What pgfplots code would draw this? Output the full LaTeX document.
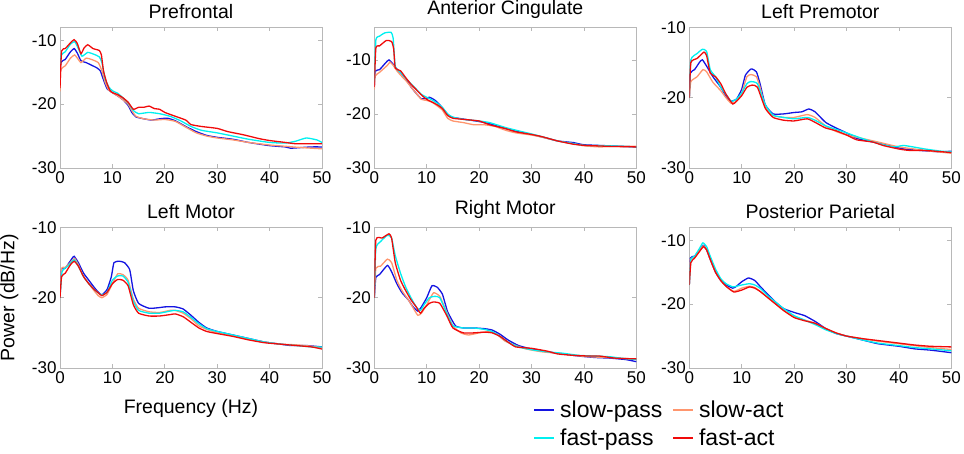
\documentclass[border=0pt]{standalone}
\usepackage{pgfplots}
\pgfplotsset{compat=1.18}
\usepackage{fontspec}
\setmainfont{Liberation Sans}
\definecolor{slowpass}{RGB}{20,20,225}
\definecolor{slowact}{RGB}{255,150,110}
\definecolor{fastpass}{RGB}{0,240,240}
\definecolor{fastact}{RGB}{240,10,10}
\pgfplotsset{panel/.style={
  scale only axis, width=262pt, height=140.5pt, anchor=south west,
  xmin=0, xmax=50, ymin=-30,
  xtick={0,10,20,30,40,50}, ytick={-30,-20,-10},
  axis line style={draw=black!28},
  tick style={draw=black!28, line width=0.6pt},
  major tick length=4pt, tick align=inside,
  xtick pos=both, ytick pos=both,
  ticklabel style={font=\fontsize{17}{20}\selectfont, text=black},
  /pgf/number format/assume math mode=true,
  title style={font=\fontsize{19.5}{22}\selectfont, yshift=-0.5pt},
  label style={font=\fontsize{19.5}{22}\selectfont},
  every axis plot/.append style={line width=1.3pt, mark=none, smooth, tension=0.3},
  legend image code/.code={\draw[##1, line width=1.6pt] (0pt,0pt) -- (20pt,0pt);},
}}
\begin{document}
\begin{tikzpicture}
\path[use as bounding box] (0,0) rectangle (964pt,454pt);
% ---------- Prefrontal
\begin{axis}[panel, at={(60pt,286pt)}, ymax=-8, title={Prefrontal}]
\addplot[slowpass] coordinates {(0,-17)(0.15,-13.5)(1,-13.0)(2,-11.8)(2.7,-11.3)(3.3,-12.0)(4,-13.2)(5,-13.5)(6,-13.9)(7,-14.3)(7.7,-14.8)(8.3,-16.2)(9,-17.6)(10,-18.2)(11,-18.7)(12,-19.3)(13,-20.2)(13.7,-21.3)(14.5,-22.0)(16,-22.3)(17.5,-22.5)(19,-22.3)(20.5,-22.2)(22,-22.6)(24,-23.5)(26,-24.3)(28,-24.9)(30,-25.2)(33,-25.5)(36,-26.0)(40,-26.5)(43,-26.7)(44,-26.9)(46,-26.8)(48,-26.7)(50,-26.7)};
\addplot[slowact] coordinates {(0,-18)(0.15,-14.6)(1,-14.0)(2,-12.8)(2.8,-12.3)(3.5,-13.0)(4,-13.5)(5,-12.8)(6,-13.0)(7.3,-13.5)(8,-14.8)(8.6,-16.5)(9.3,-17.8)(10,-18.2)(11,-18.7)(12,-19.3)(13,-20.0)(13.7,-21.0)(14.5,-21.9)(16,-22.3)(18,-22.5)(20,-22.4)(22,-22.7)(24,-23.6)(26,-24.5)(28,-25.0)(30,-25.3)(33,-25.6)(36,-26.0)(40,-26.4)(43,-26.6)(46,-26.8)(50,-27.0)};
\addplot[fastpass] coordinates {(0,-17)(0.15,-12.5)(1,-11.8)(2,-10.6)(2.8,-10.2)(3.5,-11.3)(4.2,-12.5)(5.3,-11.9)(6.5,-12.2)(7.5,-12.6)(8,-13.5)(8.6,-16.0)(9.3,-17.3)(10,-17.9)(11,-18.3)(12,-19.0)(13,-19.8)(14,-21.0)(15,-21.5)(17,-21.3)(19,-21.5)(21,-21.9)(23,-22.6)(25,-23.5)(27,-24.1)(30,-24.5)(33,-25.0)(36,-25.5)(40,-26.0)(43,-26.1)(45,-25.8)(47,-25.3)(49,-25.6)(50,-26.0)};
\addplot[fastact] coordinates {(0,-17.5)(0.3,-11.7)(1,-11.3)(2,-10.4)(2.7,-9.9)(3.3,-10.5)(4,-12.1)(4.6,-11.2)(5.3,-10.7)(6.3,-11.3)(7.5,-11.6)(7.9,-12.3)(8.3,-14.8)(8.9,-16.6)(9.5,-17.8)(10,-18.2)(11,-18.5)(12,-19.0)(13,-19.7)(14,-20.8)(15,-20.5)(16,-20.5)(17,-20.3)(18,-20.7)(19,-20.8)(20,-21.3)(22,-21.9)(24,-22.5)(25,-23.2)(27,-23.5)(30,-23.8)(32,-24.3)(35,-24.8)(38,-25.4)(40,-25.7)(43,-26.0)(45,-26.2)(50,-26.2)};
\end{axis}
% ---------- Anterior Cingulate
\begin{axis}[panel, at={(374.3pt,286pt)}, ymax=-4, title={Anterior Cingulate}]
\addplot[slowpass] coordinates {(0,-15)(0.15,-12.1)(1,-11.8)(2.2,-10.5)(2.8,-10.0)(3.6,-10.8)(4.2,-11.6)(5,-12.3)(6,-13.5)(7,-15.0)(8,-16.2)(9,-17.2)(10,-17.1)(10.5,-16.9)(11.5,-17.4)(12.5,-18.3)(13.5,-19.5)(14.5,-20.5)(16,-20.8)(18,-21.1)(20,-21.4)(22,-21.8)(25,-22.7)(27,-23.2)(30,-23.8)(33,-24.5)(35,-25.0)(38,-25.3)(40,-25.7)(45,-25.9)(50,-26.1)};
\addplot[slowact] coordinates {(0,-15.5)(0.15,-13.0)(1,-12.3)(2.5,-11.0)(3,-10.4)(3.6,-11.0)(4.3,-12.0)(5,-12.8)(6,-13.8)(7,-15.0)(8,-16.2)(9,-17.3)(10,-17.5)(11,-17.8)(12,-18.5)(13,-19.3)(14,-20.8)(15,-21.3)(17,-21.6)(19,-22.0)(21,-22.0)(23,-22.3)(25,-23.0)(27,-23.5)(30,-23.9)(32,-24.3)(35,-25.0)(38,-25.5)(40,-25.9)(43,-26.1)(46,-26.0)(50,-26.0)};
\addplot[fastpass] coordinates {(0,-14)(0.3,-6.3)(1,-5.6)(2,-5.0)(3.2,-4.9)(3.6,-6.0)(4,-11.2)(5,-12.3)(6,-13.4)(7,-14.4)(8,-15.4)(9,-16.4)(10,-16.9)(11,-17.4)(12,-18.0)(13,-18.8)(14,-20.0)(15,-20.6)(17,-21.0)(20,-21.3)(22,-21.6)(25,-22.5)(27,-23.0)(30,-23.7)(32,-24.2)(35,-25.0)(38,-25.5)(40,-25.8)(45,-25.9)(50,-26.1)};
\addplot[fastact] coordinates {(0,-15)(0.3,-7.8)(1,-7.4)(2.3,-6.4)(3.3,-6.6)(3.7,-8.0)(4,-11.5)(5,-12.0)(6,-13.3)(7,-14.5)(8,-15.5)(9,-16.5)(10,-17.3)(11,-17.8)(12,-18.3)(13,-19.0)(14,-20.3)(15,-20.8)(17,-21.0)(20,-21.3)(22,-22.0)(25,-22.7)(27,-23.3)(30,-23.8)(32,-24.2)(35,-25.0)(38,-25.6)(40,-25.8)(45,-26.0)(50,-26.1)};
\end{axis}
% ---------- Left Premotor
\begin{axis}[panel, at={(689.3pt,286pt)}, ymax=-10, title={Left Premotor}]
\addplot[slowpass] coordinates {(0,-20)(0.2,-16.5)(1,-16.0)(2,-14.9)(2.5,-14.6)(3.3,-15.5)(4.5,-17.0)(6,-18.5)(7,-19.8)(7.8,-20.5)(9,-20.2)(10,-18.8)(10.7,-16.8)(11.8,-15.9)(12.8,-16.3)(13.5,-18.0)(14.5,-21.0)(16,-22.3)(18,-22.3)(20,-22.1)(21.5,-22.0)(22.8,-21.6)(24,-22.0)(26,-23.5)(28,-24.3)(30,-25.0)(32,-25.8)(35,-26.3)(38,-26.8)(41,-27.3)(44,-27.5)(48,-27.7)(50,-27.6)};
\addplot[slowact] coordinates {(0,-20)(0.3,-17.7)(1.5,-17.0)(2.6,-16.0)(3.3,-16.3)(4.5,-17.8)(6,-19.0)(7,-20.0)(8,-20.8)(9,-20.5)(10,-19.3)(11,-17.0)(11.8,-16.7)(12.8,-17.0)(13.5,-18.5)(14.5,-21.3)(16,-22.5)(18,-22.8)(20,-22.8)(22.5,-22.4)(24,-22.8)(26,-24.0)(28,-24.8)(30,-25.3)(33,-25.8)(36,-26.3)(40,-27.0)(43,-27.3)(46,-27.6)(50,-27.9)};
\addplot[fastpass] coordinates {(0,-20)(0.3,-14.6)(1.5,-13.7)(2.5,-13.1)(3.3,-13.4)(4,-16.0)(5,-17.0)(6,-18.5)(7,-19.5)(8,-20.5)(9,-20.2)(10,-19.3)(11,-18.0)(11.7,-17.7)(13,-18.0)(14.5,-21.0)(16,-22.5)(18,-22.8)(20,-23.0)(22.5,-22.8)(24,-23.2)(26,-24.0)(28,-24.5)(30,-25.0)(33,-25.8)(36,-26.5)(39,-27.0)(41,-26.8)(45,-27.3)(48,-27.6)(50,-27.7)};
\addplot[fastact] coordinates {(0,-20)(0.3,-15.0)(1.5,-14.4)(2.8,-13.5)(3.3,-14.0)(4,-16.5)(5,-17.0)(6,-18.0)(7,-19.5)(8.3,-20.9)(9,-20.5)(10,-19.7)(11,-18.5)(12,-18.2)(13,-18.5)(14.5,-21.5)(16,-22.8)(18,-23.2)(20,-23.3)(22.5,-23.0)(24,-23.5)(26,-24.3)(28,-24.7)(30,-25.3)(32,-26.0)(35,-26.3)(37,-26.8)(40,-27.3)(42,-27.5)(45,-27.5)(50,-27.8)};
\end{axis}
% ---------- Left Motor
\begin{axis}[panel, at={(60pt,86pt)}, ymax=-10, title={Left Motor},
  xlabel={Frequency (Hz)}, ylabel={Power (dB/Hz)},
  xlabel style={at={(axis description cs:0.5,-0.2)}, anchor=north},
  ylabel style={at={(axis description cs:-0.158,0.5)}, anchor=south, inner sep=0pt}]
\addplot[slowpass] coordinates {(0,-20)(0.3,-15.9)(1,-15.8)(2.3,-14.4)(2.7,-14.1)(3.5,-15.0)(4.5,-16.5)(5.5,-17.5)(6.5,-18.5)(7.3,-19.2)(8,-19.6)(9,-18.8)(9.8,-17.0)(10.3,-15.0)(11.3,-14.8)(12.3,-15.0)(13.3,-16.0)(14,-19.0)(15,-20.8)(17,-21.5)(19,-21.4)(20,-21.3)(22,-21.3)(23.5,-21.6)(25,-22.5)(26.5,-23.5)(28,-24.3)(30,-24.8)(33,-25.3)(36,-25.8)(39,-26.3)(42,-26.6)(44,-26.8)(47,-26.8)(50,-27.0)};
\addplot[slowact] coordinates {(0,-20)(0.3,-15.8)(1,-15.7)(2.5,-14.6)(2.8,-14.4)(3.5,-15.3)(4.5,-17.0)(5.5,-18.0)(6.5,-19.0)(7.3,-19.7)(8,-20.0)(9,-19.5)(10,-18.0)(11,-16.6)(12,-16.7)(13,-17.5)(14,-20.2)(15,-21.5)(17,-22.0)(19,-22.1)(21,-21.8)(22,-21.8)(23.5,-22.2)(25,-23.0)(26.5,-24.0)(28,-24.5)(30,-25.0)(33,-25.4)(36,-25.9)(39,-26.3)(42,-26.6)(45,-26.7)(48,-26.9)(50,-27.1)};
\addplot[fastpass] coordinates {(0,-20)(0.4,-16.3)(1.5,-15.5)(2.7,-14.6)(3.5,-15.5)(4.5,-17.0)(5.5,-18.0)(6.5,-18.8)(7.3,-19.3)(8,-19.6)(9,-19.2)(10,-17.5)(11,-16.9)(12,-16.9)(13,-17.8)(14,-20.5)(15,-21.8)(17,-22.2)(19,-22.2)(21,-21.9)(22,-21.8)(23.5,-22.0)(25,-22.8)(26.5,-23.7)(28,-24.4)(30,-24.8)(33,-25.3)(36,-25.8)(39,-26.3)(42,-26.6)(45,-26.8)(48,-27.0)(50,-27.0)};
\addplot[fastact] coordinates {(0,-20)(0.3,-17.0)(1,-16.5)(2,-15.3)(2.7,-14.8)(3.5,-15.5)(4.5,-17.0)(5.5,-18.0)(6.5,-18.8)(7.3,-19.3)(8,-19.7)(9,-19.2)(10,-18.0)(11,-17.4)(12,-17.5)(13,-18.3)(14,-21.0)(15,-22.2)(17,-22.6)(19,-22.6)(21,-22.4)(22,-22.3)(23.5,-22.7)(25,-23.5)(26.5,-24.3)(28,-24.8)(30,-25.1)(33,-25.5)(36,-26.0)(39,-26.4)(42,-26.6)(45,-26.8)(48,-27.0)(50,-27.3)};
\end{axis}
% ---------- Right Motor
\begin{axis}[panel, at={(374.3pt,86pt)}, ymax=-10, title={Right Motor}]
\addplot[slowpass] coordinates {(0,-20)(0.3,-17.1)(1,-16.7)(2.5,-15.4)(3.3,-16.3)(4.3,-18.0)(5.3,-19.3)(6.5,-20.3)(7.3,-21.2)(8.3,-21.9)(9,-21.3)(10,-20.0)(11,-18.3)(12,-18.5)(13,-19.5)(14,-22.0)(15.5,-24.0)(17,-24.3)(19,-24.3)(21,-24.4)(22.5,-24.6)(24,-25.2)(25.5,-26.0)(27.5,-26.8)(30,-27.3)(33,-27.7)(36,-28.0)(39,-28.3)(42,-28.5)(45,-28.6)(48,-28.8)(50,-29.1)};
\addplot[slowact] coordinates {(0,-20)(0.3,-15.8)(1.2,-15.5)(2.5,-14.5)(3.3,-15.0)(4.3,-17.5)(5.3,-19.0)(6.5,-20.3)(7.3,-21.3)(8.3,-22.5)(9,-22.2)(10,-21.0)(11.3,-19.3)(12.5,-19.8)(13.5,-21.5)(15,-24.0)(16.5,-25.0)(18,-25.3)(20,-25.0)(22,-24.8)(23.5,-25.3)(25,-26.2)(27,-26.8)(29,-27.3)(32,-27.7)(35,-27.9)(38,-28.2)(41,-28.4)(44,-28.5)(47,-28.6)(50,-28.8)};
\addplot[fastpass] coordinates {(0,-20)(0.3,-13.0)(1.2,-12.0)(2.5,-11.1)(3.3,-11.5)(4,-14.0)(5,-16.5)(6,-18.5)(7,-20.0)(8,-21.3)(8.8,-21.8)(9.5,-21.0)(10.5,-20.0)(11.5,-19.8)(12.5,-20.0)(14,-22.5)(15,-24.0)(17,-24.3)(19,-24.3)(21,-24.5)(22.5,-24.8)(24,-25.5)(25.5,-26.3)(27.5,-27.0)(30,-27.4)(33,-27.7)(36,-27.9)(39,-28.2)(42,-28.3)(45,-28.4)(47,-28.6)(50,-28.8)};
\addplot[fastact] coordinates {(0,-20)(0.3,-11.8)(1.5,-11.5)(2.8,-10.9)(3.3,-11.5)(4,-15.0)(5,-17.5)(6,-19.0)(7,-20.3)(8,-21.3)(8.8,-22.2)(9.5,-21.5)(10.5,-20.8)(11.3,-20.6)(12.5,-20.8)(13.8,-22.5)(15,-24.3)(17,-25.0)(19,-25.0)(21,-24.9)(22.5,-25.0)(24,-25.5)(25.5,-26.3)(27,-27.0)(30,-27.2)(33,-27.6)(35,-28.0)(38,-28.2)(41,-28.3)(43,-28.3)(46,-28.6)(50,-28.7)};
\end{axis}
% ---------- Posterior Parietal
\begin{axis}[panel, at={(689.3pt,86pt)}, ymax=-8, title={Posterior Parietal},
  legend columns=2,
  legend style={draw=none, fill=none, font=\fontsize{23}{25}\selectfont,
    at={(axis description cs:-0.595,-0.22)}, anchor=north west,
    inner sep=0pt, row sep=5.5pt, cells={anchor=west},
    /tikz/every odd column/.append style={column sep=3pt},
    /tikz/every even column/.append style={column sep=8pt}}]
\addplot[slowpass] coordinates {(0,-17)(0.2,-12.8)(1,-12.5)(2,-11.5)(2.7,-10.8)(3.3,-11.5)(4,-13.0)(5,-15.0)(6,-16.3)(7,-17.0)(8.3,-17.5)(9,-17.2)(10,-16.5)(11.3,-15.9)(12.5,-16.3)(13.5,-17.2)(15,-18.5)(16.5,-19.7)(18,-20.7)(20,-21.3)(22,-21.8)(24,-22.7)(26,-23.8)(28,-24.6)(30,-25.0)(33,-25.6)(36,-26.2)(40,-26.6)(43,-27.0)(46,-27.2)(50,-27.6)};
\addlegendentry{slow-pass}
\addplot[slowact] coordinates {(0,-17)(0.2,-13.0)(1,-12.7)(2,-11.5)(2.7,-10.9)(3.3,-11.5)(4,-13.0)(5,-15.0)(6,-16.3)(7,-17.2)(8.5,-18.0)(10,-17.5)(11.5,-17.2)(12.5,-17.4)(13.5,-18.0)(15,-19.0)(16.5,-20.0)(18,-21.0)(20,-22.0)(22,-22.5)(24,-23.0)(26,-23.8)(28,-24.5)(30,-25.0)(33,-25.4)(36,-25.8)(40,-26.2)(43,-26.5)(46,-26.8)(50,-27.1)};
\addlegendentry{slow-act}
\addplot[fastpass] coordinates {(0,-17)(0.3,-13.0)(1,-12.5)(2,-11.2)(2.6,-10.4)(3.3,-11.0)(4,-12.5)(5,-14.5)(6,-16.0)(7,-16.8)(8.3,-17.3)(9,-17.2)(10,-17.0)(11.5,-16.8)(12.5,-17.0)(13.5,-17.5)(15,-18.7)(16.5,-19.7)(18,-20.7)(20,-21.8)(22,-22.5)(24,-23.2)(26,-24.0)(28,-24.6)(30,-25.0)(33,-25.6)(36,-26.1)(40,-26.5)(43,-26.8)(46,-27.0)(50,-27.3)};
\addlegendentry{fast-pass}
\addplot[fastact] coordinates {(0,-17)(0.3,-13.5)(1,-12.8)(2,-11.7)(2.7,-11.0)(3.3,-11.5)(4,-13.0)(5,-15.0)(6,-16.3)(7,-17.2)(8.5,-18.1)(10,-17.8)(11.5,-17.3)(12.5,-17.5)(13.5,-18.0)(15,-19.0)(16.5,-20.0)(18,-21.0)(20,-22.1)(22,-22.6)(24,-23.0)(26,-23.8)(28,-24.5)(30,-25.0)(33,-25.4)(36,-25.7)(40,-26.1)(43,-26.4)(46,-26.6)(50,-26.7)};
\addlegendentry{fast-act}
\end{axis}
\end{tikzpicture}
\end{document}
